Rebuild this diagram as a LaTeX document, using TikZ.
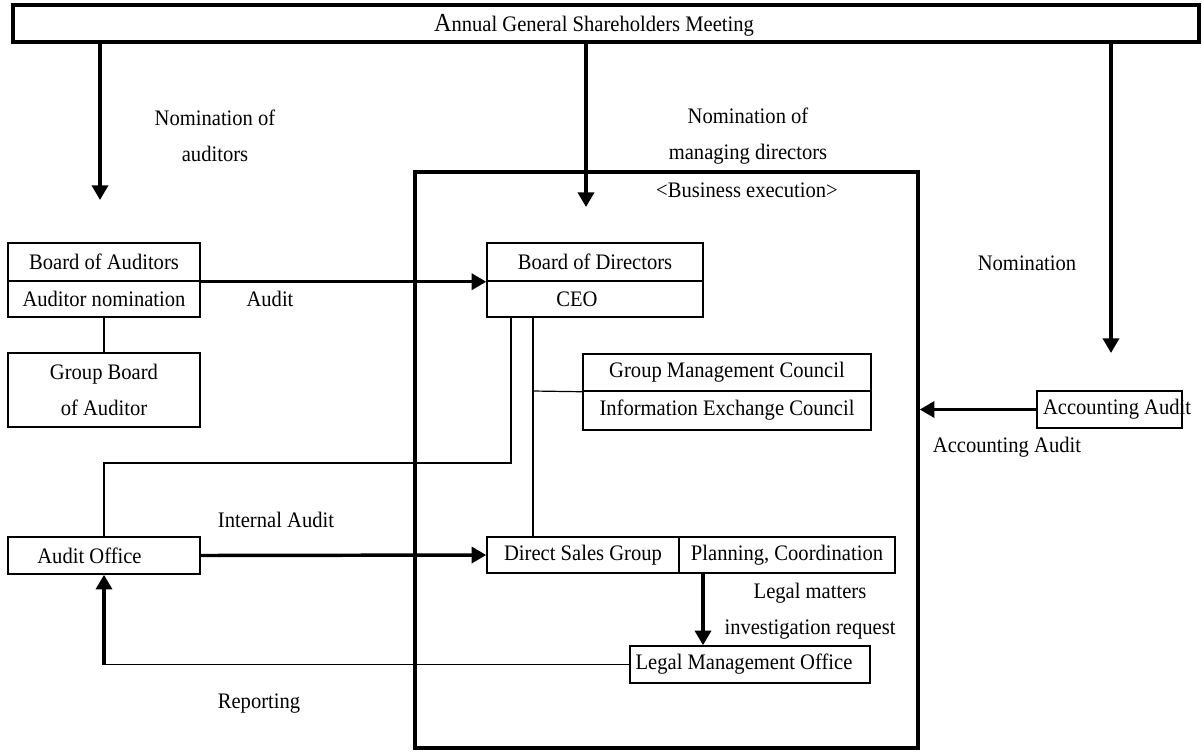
\documentclass[tikz,border=0pt]{standalone}
\usepackage{fontspec}
\setmainfont[FakeStretch=0.93]{Liberation Serif}
\usetikzlibrary{arrows.meta}
\begin{document}
\begin{tikzpicture}[x=0.75pt,y=-0.75pt,
  every node/.style={font=\fontsize{16.6pt}{27pt}\selectfont, inner sep=0pt},
  box/.style={draw, line width=1.1pt, rectangle, inner sep=0pt},
  thinline/.style={line width=0.9pt},
  heavy/.style={line width=2.6pt},
  arr/.style={heavy, -{Triangle[length=11pt,width=12pt]}},
  lbl/.style={align=center}
]
\useasboundingbox (0,0) rectangle (1202,751);
\fill[white] (0,0) rectangle (1202,751);

% frames
\node[draw, line width=2.6pt, minimum width=377.25pt, minimum height=432pt] (frame) at (666.5,460) {};
\node[draw, line width=3pt, minimum width=889.5pt, minimum height=27.75pt] (agm) at (606,23.5) {};
\node (agmtext) at (594,25) {{\fontsize{19.5pt}{27pt}\selectfont A}nnual General Shareholders Meeting};

% boxes
\node[box, minimum width=144pt, minimum height=28.5pt] (boa) at (104,262) {Board of Auditors};
\node[box, minimum width=144pt, minimum height=27pt] (aun) at (104,299) {Auditor nomination};
\node[box, minimum width=144pt, minimum height=55.5pt, align=center] (gba) at (104,390) {Group Board\\of Auditor};
\node[box, minimum width=144pt, minimum height=27.75pt] (ao) at (104,555.5) {Audit Office\hspace*{21.75pt}};

\node[box, minimum width=162pt, minimum height=28.5pt] (bod) at (595,262) {Board of Directors};
\node[box, minimum width=162pt, minimum height=27pt] (ceo) at (595,299) {CEO\hspace*{27pt}};
\node[box, minimum width=216pt, minimum height=27.75pt] (gmc) at (727,372.5) {Group Management Council};
\node[box, minimum width=216pt, minimum height=29.25pt] (iec) at (727,410.5) {Information Exchange Council};
\node[box, minimum width=144pt, minimum height=27pt] (ds) at (583,555) {Direct Sales Group};
\node[box, minimum width=162pt, minimum height=27pt] (pl) at (787,555) {Planning, Coordination};
\node[box, minimum width=180pt, minimum height=27.75pt] (lmo) at (750,664.5) {Legal Management Office\hspace*{9pt}};
\node[box, minimum width=108.75pt, minimum height=27.75pt] (acc) at (1109.5,409.5) {\makebox[108.75pt][l]{\hspace*{4.5pt}Accounting Audit}};

% labels
\node[lbl] (lnomaud) at (215,136) {Nomination of\\auditors};
\node[lbl] (lnomdir) at (748,136) {Nomination of\\managing directors};
\node (lbus) at (747,190) {<Business execution>};
\node (lnom) at (1027,263) {Nomination};
\node (laudit) at (270,299) {Audit};
\node (lint) at (276,520) {Internal Audit};
\node (lrep) at (259,704) {Reporting};
\node (lacc) at (1007,447) {Accounting Audit};
\node[lbl] (llegal) at (810,611) {Legal matters\\investigation request};

% connectors
\coordinate (t1) at (100,200);
\coordinate (t2) at (586,207);
\coordinate (t3) at (1111,353);
\draw[arr] (agm.south -| t1) -- (t1);
\draw[arr] (agm.south -| t2) -- (t2);
\draw[arr] (agm.south -| t3) -- (t3);

\draw[arr] (boa.south east) -- (bod.south west);
\draw[thinline] (aun.south) -- (gba.north);

\coordinate (j1) at (511,463);
\draw[thinline] (ceo.south -| j1) -- (j1) -| (ao.north);
\coordinate (j2) at (533,391);
\draw[thinline] (ceo.south -| j2) -- (ds.north -| j2);
\draw[thinline] (j2) -- (gmc.south west);

\draw[arr] (ao.east) -- (ds.west);
\coordinate (j3) at (703,600);
\draw[arr] (pl.south -| j3) -- (lmo.north -| j3);

\coordinate (j4) at (ao.south |- lmo.west);
\draw[thinline] (lmo.west) -- (j4);
\draw[arr] (j4) -- (ao.south);

\draw[arr] (acc.west) -- (acc.west -| frame.east);
\end{tikzpicture}
\end{document}
